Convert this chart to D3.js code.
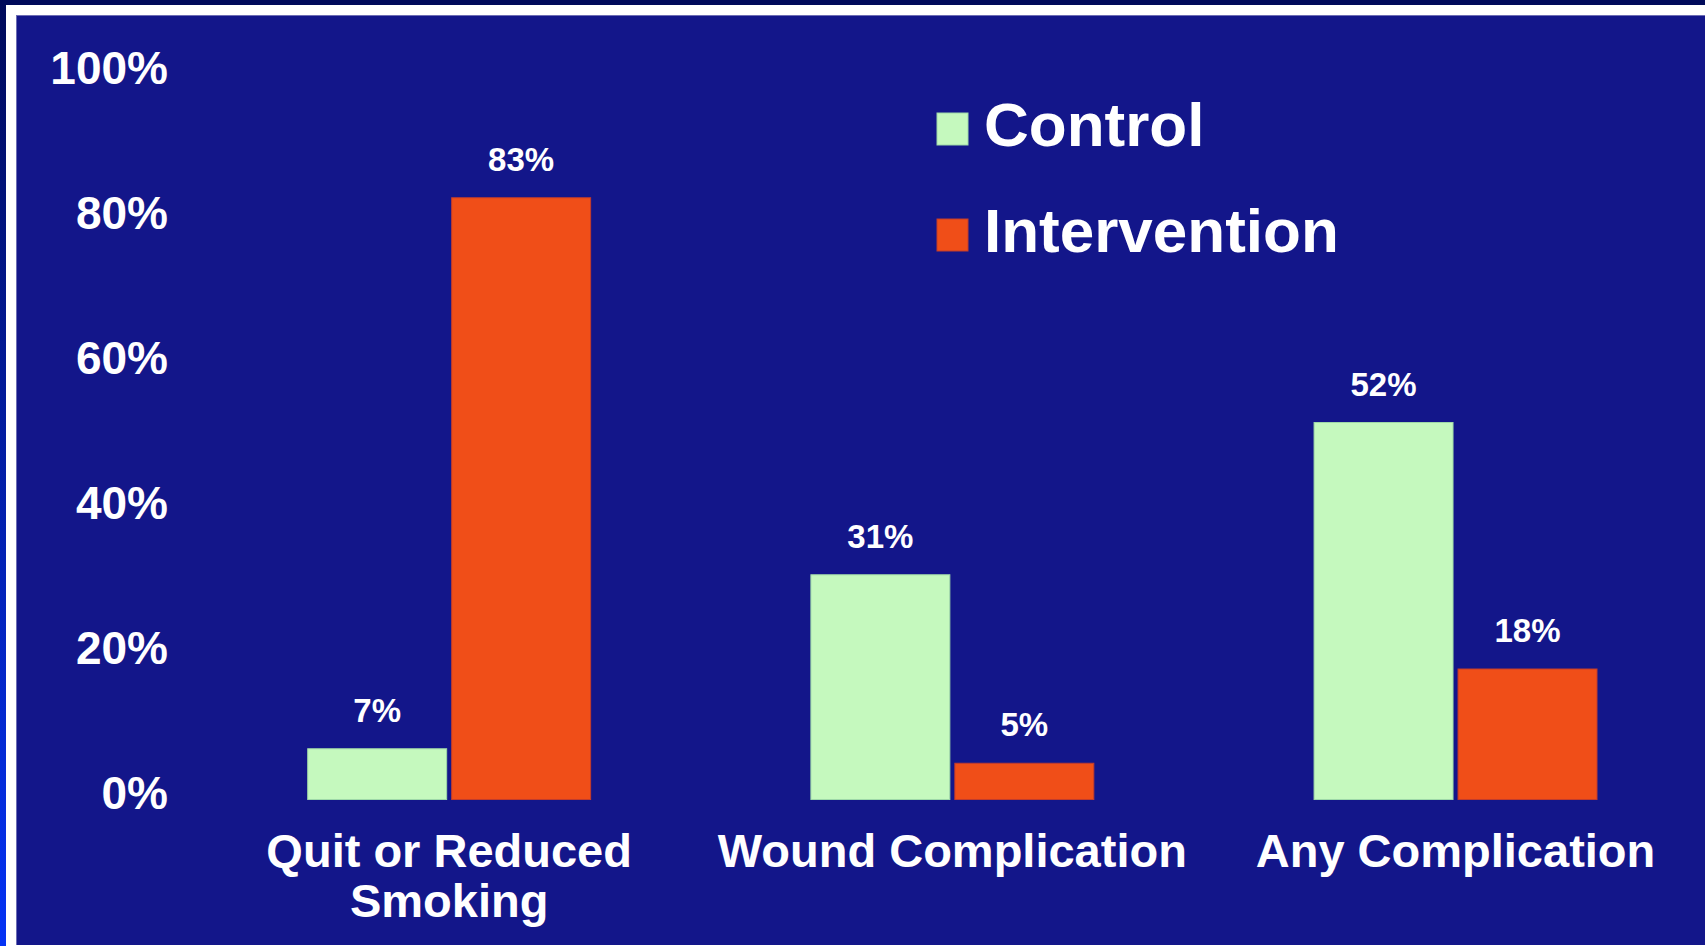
<!DOCTYPE html>
<html>
<head>
<meta charset="utf-8">
<script src="https://cdn.jsdelivr.net/npm/d3@7"></script>
<style>
  html, body { margin: 0; padding: 0; background: #000a5a; overflow: hidden; }
  svg { display: block; }
  text { font-family: "Liberation Sans", Arial, Helvetica, sans-serif; font-weight: bold; fill: #ffffff; }
</style>
</head>
<body>
<script>
// ---- data ----
const categories = ["Quit or Reduced Smoking", "Wound Complication", "Any Complication"];
const categoryLines = [["Quit or Reduced", "Smoking"], ["Wound Complication"], ["Any Complication"]];
const seriesNames = ["Control", "Intervention"];
const controlValues = [7, 31, 52];
const interventionValues = [83, 5, 18];
const yTicks = [0, 20, 40, 60, 80, 100];

const W = 1705, H = 946;
const colors = { Control: "#c5f9be", Intervention: "#f04e18" };
const strokes = { Control: "#9ed8a8", Intervention: "#c23c2c" };

const svg = d3.select("body").append("svg").attr("width", W).attr("height", H);

// frame
const defs = svg.append("defs");
const grad = defs.append("linearGradient").attr("id", "leftGrad")
  .attr("x1", 0).attr("y1", 0).attr("x2", 0).attr("y2", 1);
grad.append("stop").attr("offset", "0%").attr("stop-color", "#000a5a");
grad.append("stop").attr("offset", "100%").attr("stop-color", "#0533f5");
svg.append("rect").attr("x", 0).attr("y", 0).attr("width", W).attr("height", H).attr("fill", "#000a5a");
svg.append("rect").attr("x", 0).attr("y", 0).attr("width", 6).attr("height", H).attr("fill", "url(#leftGrad)");
svg.append("rect").attr("x", 6).attr("y", 5).attr("width", W - 6).attr("height", H - 5).attr("fill", "#ffffff");
svg.append("rect").attr("x", 16).attr("y", 15).attr("width", W - 16).attr("height", 930)
  .attr("fill", "#13168a");
svg.append("line").attr("x1", 16).attr("y1", 15.5).attr("x2", W).attr("y2", 15.5)
  .attr("stroke", "#6c6cb4").attr("stroke-width", 1);
svg.append("line").attr("x1", 16.5).attr("y1", 15).attr("x2", 16.5).attr("y2", 945)
  .attr("stroke", "#6c6cb4").attr("stroke-width", 1);

// scales
const y = d3.scaleLinear().domain([0, 100]).range([799.5, 74.5]);
const x0 = d3.scaleBand().domain(categories).range([307.7, 1597]).paddingInner(0.4377).paddingOuter(0);
const x1 = d3.scaleBand().domain(seriesNames).range([0, x0.bandwidth()]).paddingInner(0.0347).paddingOuter(0);

// y axis labels
const yAxis = d3.axisLeft(y).tickValues(yTicks).tickFormat(d => d + "%").tickSize(0).tickPadding(0);
const yg = svg.append("g").attr("transform", "translate(168,0)").call(yAxis);
yg.select(".domain").remove();
yg.selectAll("text").attr("fill", "#ffffff").attr("font-size", 46)
  .attr("font-family", "'Liberation Sans', Arial, sans-serif").attr("font-weight", "bold")
  .attr("dy", "0.2em");

// bars
const rows = categories.map((c, i) => ({ cat: c, vals: [
  { s: "Control", v: controlValues[i] },
  { s: "Intervention", v: interventionValues[i] }
]}));

const groups = svg.append("g").selectAll("g").data(rows).join("g")
  .attr("transform", d => `translate(${x0(d.cat)},0)`);

groups.selectAll("rect").data(d => d.vals).join("rect")
  .attr("x", d => x1(d.s))
  .attr("y", d => y(d.v))
  .attr("width", x1.bandwidth())
  .attr("height", d => y(0) - y(d.v))
  .attr("fill", d => colors[d.s])
  .attr("stroke", d => strokes[d.s])
  .attr("stroke-width", 1);

groups.selectAll("text.val").data(d => d.vals).join("text")
  .attr("class", "val")
  .attr("x", d => x1(d.s) + x1.bandwidth() / 2)
  .attr("y", d => y(d.v) - 27)
  .attr("text-anchor", "middle")
  .attr("font-size", 33)
  .text(d => d.v + "%");

// category labels
const xg = svg.append("g");
categories.forEach((c, i) => {
  const t = xg.append("text")
    .attr("x", x0(c) + x0.bandwidth() / 2)
    .attr("y", 866.5)
    .attr("text-anchor", "middle")
    .attr("font-size", 47);
  categoryLines[i].forEach((line, j) => {
    t.append("tspan").attr("x", x0(c) + x0.bandwidth() / 2)
      .attr("dy", j === 0 ? 0 : 50).text(line);
  });
});

// legend
const legend = svg.append("g").attr("transform", "translate(937,113)");
seriesNames.forEach((s, i) => {
  const g = legend.append("g").attr("transform", `translate(0,${i * 106})`);
  g.append("rect").attr("x", 0).attr("y", 0).attr("width", 31).attr("height", 32)
    .attr("fill", colors[s]).attr("stroke", strokes[s]).attr("stroke-width", 1);
  g.append("text").attr("x", 47).attr("y", 33).attr("font-size", 62).text(s);
});
</script>
</body>
</html>
